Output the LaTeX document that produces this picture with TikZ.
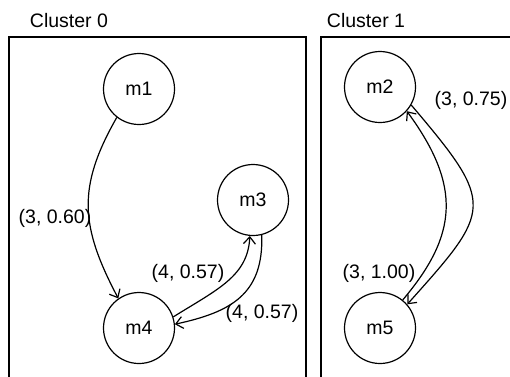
\documentclass[tikz,border=0pt]{standalone}
\usepackage{fontspec}
\setmainfont{Liberation Sans}
\usetikzlibrary{arrows.meta}
\begin{document}
\begin{tikzpicture}[x=1pt,y=-1pt,
  every node/.style={font=\fontsize{19.5}{22}\selectfont},
  state/.style={draw, circle, line width=1.2pt, minimum size=71pt, inner sep=0pt},
  cluster/.style={draw, line width=1.2pt},
  edge/.style={draw, line width=1.2pt, -{Straight Barb[length=7pt,width=12pt,line width=1.2pt]}},
  lbl/.style={inner sep=0pt}]
\useasboundingbox (0,0) rectangle (510,376);
\clip (0,0) rectangle (510,376);
\draw[cluster] (9,37) rectangle (306,400);
\draw[cluster] (321,37) rectangle (540,400);
\node (c0) at (69,21) {Cluster 0};
\node (c1) at (366,21) {Cluster 1};
\node[state] (m1) at (139,89) {m1};
\node[state] (m3) at (253,200) {m3};
\node[state] (m4) at (139,328) {m4};
\node[state] (m2) at (380,87) {m2};
\node[state] (m5) at (380,328) {m5};
\draw[edge] (m1.232) .. controls +(-40,70) and +(-38,-72) .. (m4.125);
\draw[edge] (m4.18) .. controls +(45,-28) and +(-2,40) .. (m3.265);
\draw[edge] (m3.284) .. controls +(2,60) and +(55,-12) .. (m4.6);
\draw[edge] (m2.330) .. controls +(85,100) and +(85,-95) .. (m5.41);
\draw[edge] (m5.51) .. controls +(55,-65) and +(55,75) .. (m2.318);
\node[lbl] (l1) at (55,218) {(3, 0.60)};
\node[lbl] (l2) at (188,273) {(4, 0.57)};
\node[lbl] (l3) at (262,313) {(4, 0.57)};
\node[lbl] (l4) at (471,100) {(3, 0.75)};
\node[lbl] (l5) at (379,273) {(3, 1.00)};
\end{tikzpicture}
\end{document}
